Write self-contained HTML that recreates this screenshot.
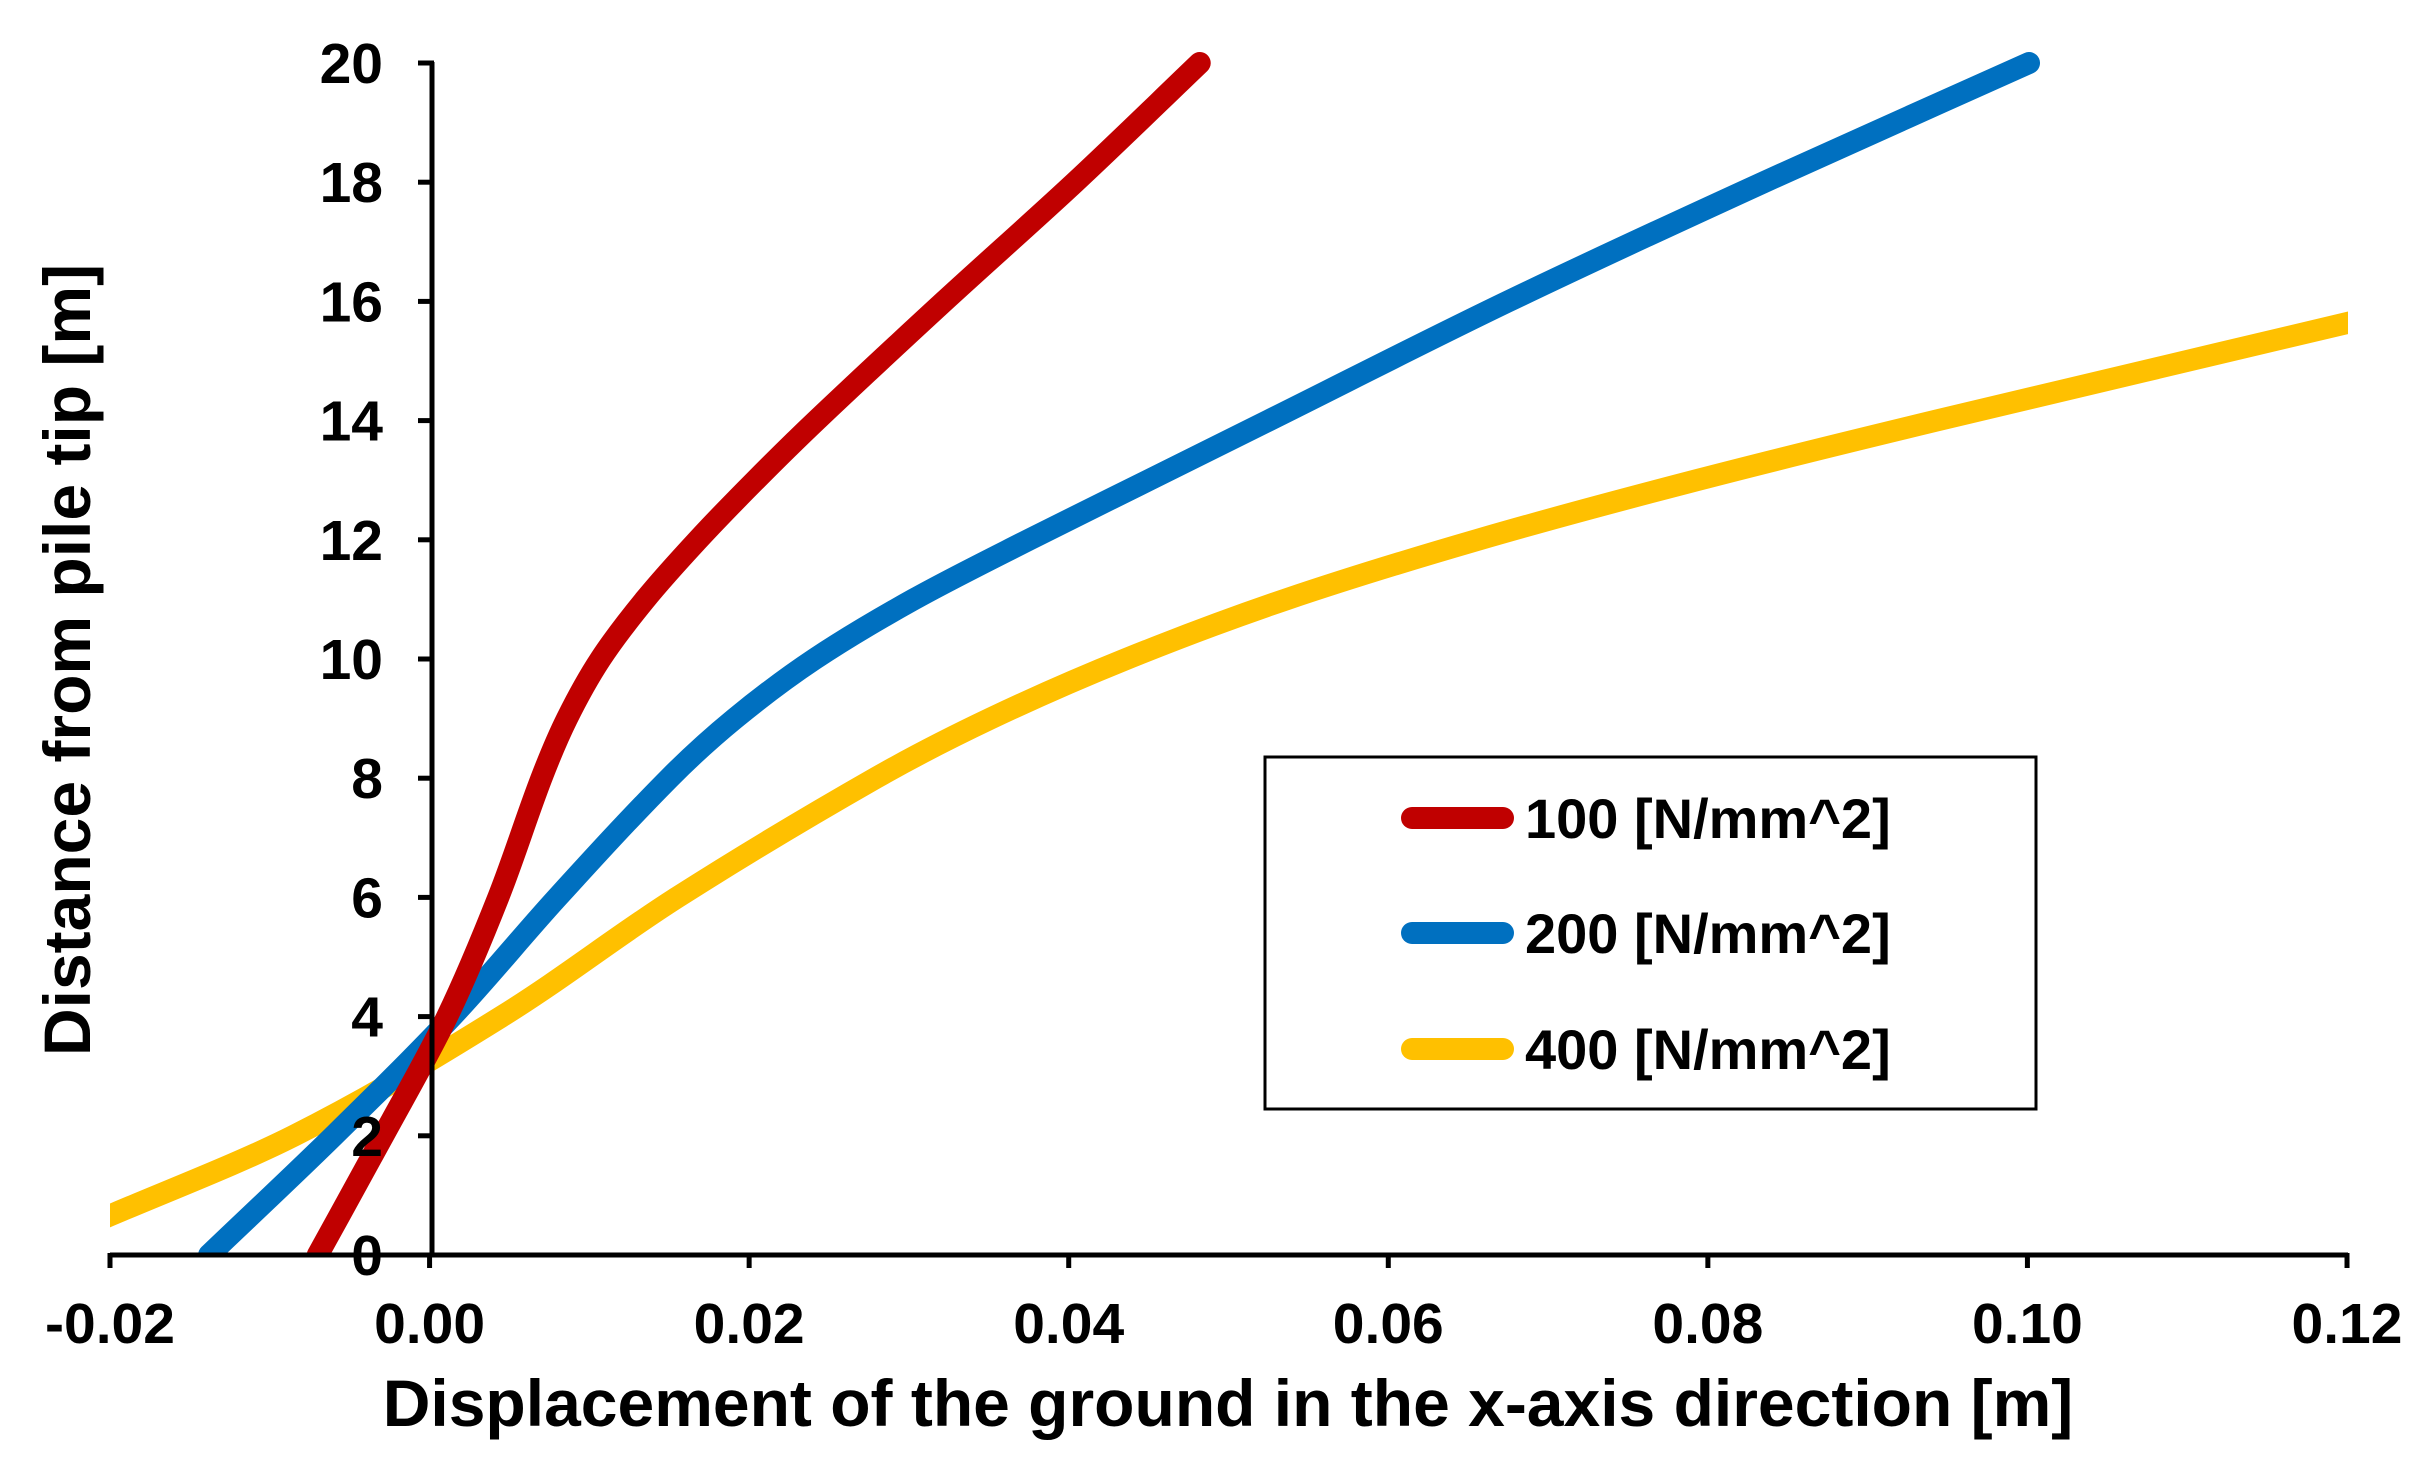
<!DOCTYPE html>
<html><head><meta charset="utf-8"><style>
html,body{margin:0;padding:0;background:#fff;}
svg{display:block;font-family:"Liberation Sans",sans-serif;font-weight:bold;}
</style></head><body>
<svg id="chart" width="2428" height="1484" viewBox="0 0 2428 1484">
<defs><clipPath id="plot"><rect x="110" y="0" width="2238" height="1255"/></clipPath></defs>
<g id="series" clip-path="url(#plot)"></g>
<g id="axes"></g>
<rect x="1265" y="757" width="771" height="352" fill="#fff" stroke="#000" stroke-width="3"/>
<g id="legend"></g>
<text x="1228" y="1426" font-size="66" text-anchor="middle">Displacement of the ground in the x-axis direction [m]</text>
<text transform="translate(90,660) rotate(-90)" font-size="66" text-anchor="middle">Distance from pile tip [m]</text>
</svg>
<script>
const xTicks=[-0.02,0,0.02,0.04,0.06,0.08,0.10,0.12];
const xTickLabels=["-0.02","0.00","0.02","0.04","0.06","0.08","0.10","0.12"];
const yTicks=[0,2,4,6,8,10,12,14,16,18,20];
const seriesNames=["100 [N/mm^2]","200 [N/mm^2]","400 [N/mm^2]"];
const seriesColors=["#C00000","#0070C0","#FFC000"];
const red_x=[-0.007,-0.0029,0.0011,0.0043,0.0070,0.0086,0.0107,0.0135,0.0168,0.0204,0.0242,0.0322,0.0404,0.0482];
const red_y=[0,2,4,6,8,9,10,11,12,13,14,16,18,20];
const blue_x=[-0.0138,-0.006,0.0014,0.008,0.015,0.0191,0.0241,0.0303,0.0375,0.045,0.0525,0.0675,0.0835,0.1001];
const blue_y=[0,2,4,6,8,9,10,11,12,13,14,16,18,20];
const yel_x=[-0.021,-0.0085,0.0045,0.0155,0.0279,0.0351,0.0436,0.0536,0.0656,0.0793,0.0943,0.121];
const yel_y=[0.55,2,4,6,8,9,10,11,12,13,14,15.7];
const NS="http://www.w3.org/2000/svg";
const X=v=>110+(v+0.02)/0.14*2237;
const Y=v=>1255-v/20*1192;
function mk(tag,attrs,parent){const e=document.createElementNS(NS,tag);for(const k in attrs)e.setAttribute(k,attrs[k]);parent.appendChild(e);return e;}
// cubic Hermite spline parameterised by the y value (handles uneven spacing)
function smooth(xs,ys){const n=xs.length;const m=[];
for(let i=0;i<n;i++){const a=Math.max(0,i-1),b=Math.min(n-1,i+1);m.push((xs[b]-xs[a])/(ys[b]-ys[a]));}
let d="M"+X(xs[0])+","+Y(ys[0]);
for(let i=0;i<n-1;i++){const h=ys[i+1]-ys[i];
const c1x=xs[i]+m[i]*h/3,c1y=ys[i]+h/3,c2x=xs[i+1]-m[i+1]*h/3,c2y=ys[i+1]-h/3;
d+=" C"+X(c1x)+","+Y(c1y)+" "+X(c2x)+","+Y(c2y)+" "+X(xs[i+1])+","+Y(ys[i+1]);}
return d;}
const sg=document.getElementById("series");
const data=[[red_x,red_y],[blue_x,blue_y],[yel_x,yel_y]];
const names=["series-100","series-200","series-400"];
for(let i=2;i>=0;i--){
const el=mk("path",{d:smooth(data[i][0],data[i][1]),fill:"none",stroke:seriesColors[i],"stroke-width":22,"stroke-linecap":"round","stroke-linejoin":"round"},sg);


}
const ax=document.getElementById("axes");
const xl=mk("line",{x1:110,y1:1255,x2:2348,y2:1255,stroke:"#000","stroke-width":5},ax);


const yl=mk("line",{x1:432,y1:62,x2:432,y2:1257,stroke:"#000","stroke-width":5},ax);


xTicks.forEach((t,i)=>{
const tk=mk("line",{x1:X(t),y1:1253,x2:X(t),y2:1268,stroke:"#000","stroke-width":5},ax);


const tx=mk("text",{x:X(t),y:1343,"font-size":57,"text-anchor":"middle"},ax);tx.textContent=xTickLabels[i];


});
yTicks.forEach(t=>{
const tk=mk("line",{x1:418,y1:Y(t),x2:434,y2:Y(t),stroke:"#000","stroke-width":5},ax);


const tx=mk("text",{x:383,y:Y(t)+20,"font-size":57,"text-anchor":"end"},ax);tx.textContent=String(t);


});
const lg=document.getElementById("legend");
const ly=[818,933,1049];
seriesNames.forEach((n,i)=>{
const g=mk("g",{},lg);


mk("line",{x1:1412,y1:ly[i],x2:1503,y2:ly[i],stroke:seriesColors[i],"stroke-width":22,"stroke-linecap":"round"},g);
const t=mk("text",{x:1525,y:ly[i]+20,"font-size":56},g);t.textContent=n;
});
</script>
</body></html>
